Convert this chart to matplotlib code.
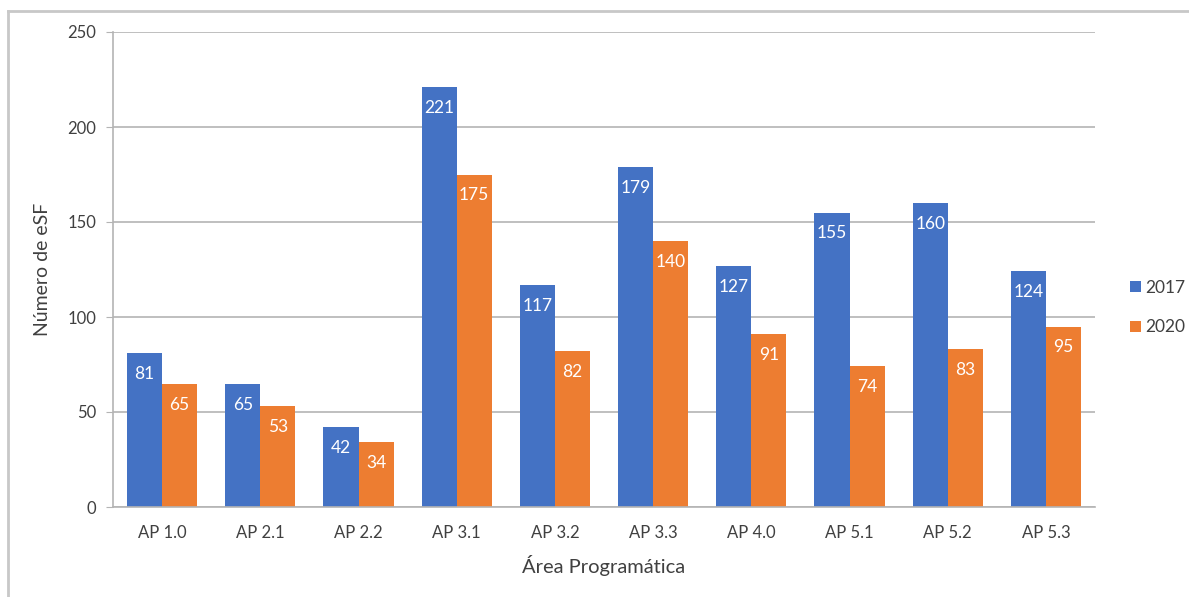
import matplotlib.pyplot as plt
import numpy as np
from matplotlib.lines import Line2D

plt.rcParams["font.family"] = ["Lato", "DejaVu Sans"]

# Equipes de Saúde da Família por área programática
areas = ["AP 1.0", "AP 2.1", "AP 2.2", "AP 3.1", "AP 3.2",
         "AP 3.3", "AP 4.0", "AP 5.1", "AP 5.2", "AP 5.3"]
esf_2017 = [81, 65, 42, 221, 117, 179, 127, 155, 160, 124]
esf_2020 = [65, 53, 34, 175, 82, 140, 91, 74, 83, 95]
y_ticks = [0, 50, 100, 150, 200, 250]

COLOR_2017 = "#4472C4"
COLOR_2020 = "#ED7D31"
COLOR_TEXT = "#404040"
COLOR_GRID = "#B4B4B4"

fig = plt.figure(figsize=(11.89, 5.97), dpi=100)
ax = fig.add_axes([113 / 1189, 1 - 507 / 597, 982 / 1189, 475 / 597])

x = np.arange(len(areas))
w = 0.357
b1 = ax.bar(x - w / 2, esf_2017, w, color=COLOR_2017, label="2017", zorder=2)
b2 = ax.bar(x + w / 2, esf_2020, w, color=COLOR_2020, label="2020", zorder=2)

for bars, vals in ((b1, esf_2017), (b2, esf_2020)):
    for rect, v in zip(bars, vals):
        ax.annotate(str(v), (rect.get_x() + rect.get_width() / 2, v),
                    xytext=(0, -21), textcoords="offset pixels",
                    ha="center", va="center", color="white", fontsize=12.5,
                    zorder=3)

ax.set_xlim(-0.5, len(areas) - 0.5)
ax.set_ylim(0, 250)
ax.set_yticks(y_ticks)
ax.set_xticks(x)
ax.set_xticklabels(areas)
ax.yaxis.grid(True, color=COLOR_GRID, lw=1.2, zorder=0)
ax.set_axisbelow(True)

for side in ("top", "right"):
    ax.spines[side].set_visible(False)
for side in ("left", "bottom"):
    ax.spines[side].set_color(COLOR_GRID)
    ax.spines[side].set_linewidth(1.2)

ax.tick_params(axis="y", length=5, color=COLOR_GRID, labelcolor=COLOR_TEXT,
               labelsize=12, pad=7)
ax.tick_params(axis="x", length=0, labelcolor=COLOR_TEXT, labelsize=12, pad=13)

ax.set_xlabel("Área Programática", fontsize=14.5, color=COLOR_TEXT, labelpad=10)
ax.set_ylabel("Número de eSF", fontsize=14, color=COLOR_TEXT, labelpad=12)

ax.legend(loc="center left", bbox_to_anchor=(1.02, 0.42), frameon=False,
          fontsize=12.5, handlelength=0.6, handleheight=0.6, handletextpad=0.25,
          labelspacing=1.35, labelcolor=COLOR_TEXT)

# moldura cinza à esquerda e no topo
fig.add_artist(Line2D([8 / 1189, 8 / 1189], [0, 1 - 11 / 597],
                      transform=fig.transFigure, color="#C8C8C8", lw=2))
fig.add_artist(Line2D([8 / 1189, 1], [1 - 11 / 597, 1 - 11 / 597],
                      transform=fig.transFigure, color="#C8C8C8", lw=2))

fig.savefig("out.png", dpi=100)
